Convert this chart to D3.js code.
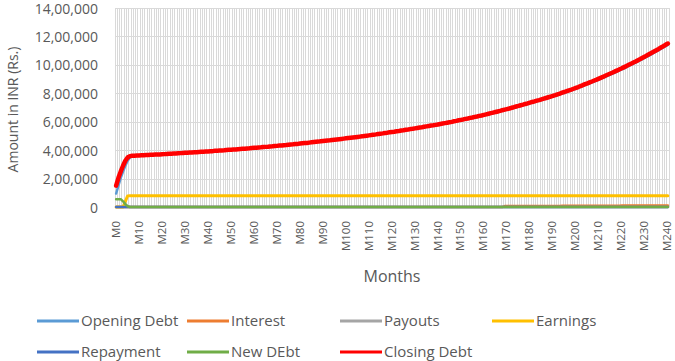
<!DOCTYPE html>
<html lang="en">

<head>
    <meta charset="UTF-8" />
    <title>Debt over months</title>
    <script src="https://d3js.org/d3.v7.min.js"></script>
    <style>
        body {
            margin: 0;
            background: #fff;
        }

        text {
            font-family: "Open Sans", "Liberation Sans", sans-serif;
            fill: #595959;
        }

        .gridlines line {
            stroke: #d9d9d9;
            shape-rendering: crispEdges;
        }

        .gridlines .domain {
            stroke: none;
        }
    </style>
</head>

<body>
    <svg id="chart" width="675" height="361"></svg>
    <script>
        // months M0..M240, one label every 10th month
        const months = d3.range(241).map((i) => "M" + i);
        const monthTicks = months.filter((d, i) => i % 10 === 0);

        const yTicks = [0, 200000, 400000, 600000, 800000, 1000000, 1200000, 1400000];
        const yTickLabels = ["0", "2,00,000", "4,00,000", "6,00,000", "8,00,000",
            "10,00,000", "12,00,000", "14,00,000"];

        // closing debt in thousands of rupees
        const closingDebtK = [
            150, 205, 250, 290, 325, 348, 358, 360, 361, 362, 363,
            364, 364, 365, 366, 367, 368, 369, 369, 370, 371,
            372, 373, 374, 375, 376, 377, 378, 379, 380, 381,
            382, 383, 384, 385, 386, 387, 388, 389, 390, 391,
            392, 393, 395, 396, 397, 398, 399, 401, 402, 403,
            404, 405, 407, 408, 409, 410, 412, 413, 415, 416,
            417, 419, 420, 422, 423, 424, 426, 427, 429, 430,
            432, 433, 435, 436, 438, 440, 441, 443, 444, 446,
            448, 450, 451, 453, 455, 457, 459, 460, 462, 464,
            466, 468, 469, 471, 473, 475, 477, 479, 481, 483,
            485, 487, 489, 491, 493, 495, 497, 500, 502, 504,
            506, 509, 511, 514, 516, 518, 521, 523, 526, 528,
            530, 533, 535, 538, 540, 543, 545, 548, 550, 553,
            556, 559, 561, 564, 567, 570, 573, 575, 578, 581,
            584, 587, 590, 593, 596, 599, 603, 606, 610, 613,
            616, 620, 623, 627, 630, 634, 637, 641, 644, 648,
            652, 656, 660, 664, 668, 672, 676, 681, 685, 689,
            693, 698, 702, 707, 711, 716, 720, 725, 729, 734,
            739, 743, 748, 752, 757, 762, 767, 772, 777, 782,
            787, 793, 798, 804, 809, 815, 821, 826, 832, 838,
            844, 851, 857, 864, 870, 877, 883, 890, 896, 903,
            910, 917, 925, 932, 939, 946, 954, 961, 969, 976,
            984, 992, 1000, 1008, 1016, 1024, 1033, 1041, 1050, 1058,
            1067, 1076, 1085, 1094, 1103, 1112, 1122, 1131, 1141, 1150
        ];
        const closingDebt = closingDebtK.map((v) => v * 1000);

        // opening debt is last month's closing debt
        const openingDebt = [95000].concat(closingDebt.slice(0, -1));

        // interest only shows up from M169 on (thousands)
        const interestTailK = [
            6.8, 6.9, 6.9, 7.0, 7.0, 7.0, 7.1, 7.1, 7.2, 7.2, 7.3, 7.3,
            7.3, 7.4, 7.4, 7.5, 7.5, 7.6, 7.6, 7.7, 7.7, 7.8, 7.8, 7.9,
            7.9, 8.0, 8.0, 8.1, 8.2, 8.2, 8.3, 8.3, 8.4, 8.4, 8.5, 8.6,
            8.6, 8.7, 8.8, 8.8, 8.9, 9.0, 9.0, 9.1, 9.2, 9.3, 9.3, 9.4,
            9.5, 9.5, 9.6, 9.7, 9.8, 9.8, 9.9, 10.0, 10.1, 10.2, 10.2, 10.3,
            10.4, 10.5, 10.6, 10.7, 10.8, 10.9, 10.9, 11.0, 11.1, 11.2, 11.3, 11.4
        ];
        const interest = Array(169).fill(0).concat(interestTailK.map((v) => v * 1000));

        const payouts = Array(241).fill(0);
        const earnings = [0, 0, 0, 0, 40000, 78000].concat(Array(235).fill(80000));
        const repayment = Array(241).fill(0);
        const newDebt = [55000, 55000, 55000, 40000, 20000, 5000].concat(Array(235).fill(0));

        const series = [
            { name: "Opening Debt", color: "#5B9BD5", values: openingDebt, width: 2.5 },
            { name: "Interest", color: "#ED7D31", values: interest, width: 2.5 },
            { name: "Payouts", color: "#A5A5A5", values: payouts, width: 2.5 },
            { name: "Earnings", color: "#FFC000", values: earnings, width: 3 },
            { name: "Repayment", color: "#4472C4", values: repayment, width: 2.5 },
            { name: "New DEbt", color: "#70AD47", values: newDebt, width: 2.5 },
            { name: "Closing Debt", color: "#FF0000", values: closingDebt, width: 4.5 },
        ];

        {
            const svg = d3.select("svg#chart");
            const svgWidth = +svg.attr("width");
            const svgHeight = +svg.attr("height");
            const margins = { top: 8, right: 6, bottom: 154, left: 115 };

            const chartWidth = svgWidth - margins.left - margins.right;
            const chartHeight = svgHeight - margins.top - margins.bottom;

            const annotations = svg.append("g").attr("id", "annotations");
            const chartArea = svg
                .append("g")
                .attr("id", "plot")
                .attr("transform", `translate(${margins.left},${margins.top})`);

            const xScale = d3.scalePoint()
                .domain(months)
                .range([0, chartWidth])
                .padding(0.5);

            const yScale = d3.scaleLinear()
                .domain([0, 1400000])
                .range([chartHeight, 0]);

            // vertical gridlines between categories
            const step = xScale.step();
            chartArea.append("g")
                .attr("class", "gridlines")
                .selectAll("line")
                .data(d3.range(months.length + 1))
                .join("line")
                .attr("x1", (k) => k * step)
                .attr("x2", (k) => k * step)
                .attr("y1", 0)
                .attr("y2", chartHeight);

            let leftGridlines = d3.axisLeft(yScale)
                .tickValues(yTicks)
                .tickFormat("")
                .tickSize(-chartWidth);

            chartArea.append("g")
                .attr("class", "y gridlines")
                .call(leftGridlines);

            let leftAxis = d3.axisLeft(yScale)
                .tickValues(yTicks)
                .tickFormat((d, i) => yTickLabels[i])
                .tickSize(0)
                .tickPadding(17);

            annotations.append("g")
                .attr("class", "y axis")
                .attr("transform", `translate(${margins.left},${margins.top})`)
                .call(leftAxis)
                .call((g) => g.select(".domain").remove())
                .selectAll("text")
                .style("font-size", "14px")
                .attr("dy", "0.36em")
                .attr("fill", "#595959");

            let bottomAxis = d3.axisBottom(xScale)
                .tickValues(monthTicks)
                .tickSize(0);

            const xAxis = annotations.append("g")
                .attr("class", "x axis")
                .attr("transform", `translate(${margins.left},${margins.top + chartHeight})`)
                .call(bottomAxis);
            xAxis.select(".domain").attr("stroke", "#d9d9d9");
            xAxis.selectAll("text")
                .attr("transform", "rotate(-90)")
                .attr("text-anchor", "end")
                .attr("x", -14)
                .attr("y", -1)
                .attr("dx", 0)
                .attr("dy", "0.35em")
                .attr("fill", "#595959")
                .style("font-size", "11.5px");

            // lines
            series.forEach((s) => {
                const lineGen = d3.line()
                    .x((d, i) => xScale(months[i]))
                    .y((d) => yScale(d));
                chartArea.append("path")
                    .datum(s.values)
                    .attr("class", "line")
                    .attr("fill", "none")
                    .attr("stroke", s.color)
                    .attr("stroke-width", s.width)
                    .attr("stroke-linejoin", "round")
                    .attr("stroke-linecap", "round")
                    .attr("d", lineGen);
            });

            // axis titles
            annotations.append("text")
                .attr("transform", `translate(13,${margins.top + chartHeight / 2 + 2}) rotate(-90)`)
                .attr("text-anchor", "middle")
                .attr("dy", "0.35em")
                .style("font-size", "14px")
                .text("Amount in INR (Rs.)");

            annotations.append("text")
                .attr("x", margins.left + chartWidth / 2)
                .attr("y", 276)
                .attr("text-anchor", "middle")
                .attr("dy", "0.35em")
                .style("font-size", "16px")
                .text("Months");

            // legend, two rows of four columns
            const legendCols = [37, 187, 340, 492];
            const legendRows = [321, 352];
            const legend = annotations.append("g").attr("class", "legend")
                .selectAll("g")
                .data(series)
                .join("g")
                .attr("transform", (d, i) =>
                    `translate(${legendCols[i % 4]},${legendRows[Math.floor(i / 4)]})`);

            legend.append("line")
                .attr("x1", 0)
                .attr("x2", 42)
                .attr("stroke", (d) => d.color)
                .attr("stroke-width", 3);

            legend.append("text")
                .attr("x", 44)
                .attr("dy", "0.35em")
                .style("font-size", "15px")
                .text((d) => d.name);
        }
    </script>
</body>

</html>
